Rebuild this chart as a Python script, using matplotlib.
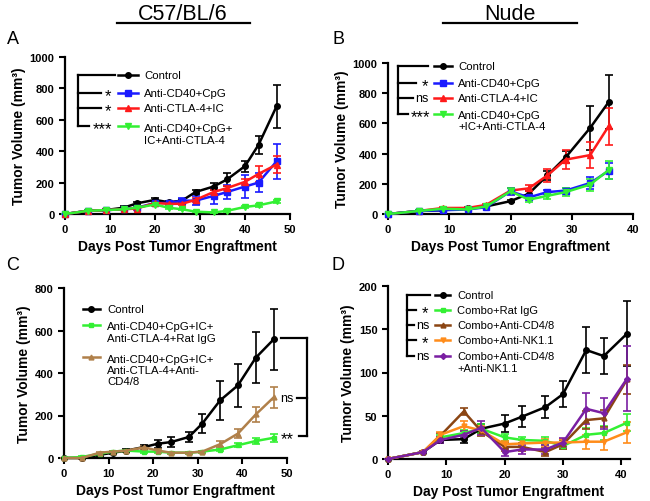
import matplotlib
matplotlib.use("Agg")
import matplotlib.pyplot as plt
from matplotlib.lines import Line2D
import numpy as np

plt.rcParams['font.family'] = ['Liberation Sans', 'DejaVu Sans']

W, H = 650, 502

# ---------------- Data ----------------
# Panel A (C57/BL/6)
daysA = [0, 5, 9, 13, 16, 20, 23, 26, 29, 33, 36, 40, 43, 47]
A_ctrl = [0, 20, 25, 40, 68, 90, 75, 85, 140, 175, 220, 305, 440, 685]
A_ctrl_err = [0, 5, 5, 8, 10, 10, 10, 12, 15, 20, 40, 35, 60, 135]
A_cd40 = [0, 20, 25, 30, 40, 70, 70, 85, 85, 115, 140, 175, 200, 335]
A_cd40_err = [0, 5, 5, 5, 8, 10, 10, 15, 30, 50, 45, 75, 60, 110]
A_ctla = [0, 20, 25, 30, 35, 70, 65, 65, 90, 140, 165, 205, 255, 315]
A_ctla_err = [0, 5, 5, 5, 8, 10, 10, 10, 15, 15, 15, 20, 50, 55]
A_combo = [0, 20, 25, 30, 40, 60, 40, 30, 15, 10, 20, 45, 55, 80]
A_combo_err = [0, 3, 3, 3, 5, 8, 8, 5, 5, 5, 5, 8, 8, 10]

# Panel B (Nude)
daysB = [0, 5, 9, 13, 16, 20, 23, 26, 29, 33, 36]
B_ctrl = [0, 20, 25, 40, 50, 85, 135, 255, 375, 570, 740]
B_ctrl_err = [0, 5, 5, 5, 5, 8, 15, 30, 40, 145, 180]
B_cd40 = [0, 20, 25, 30, 45, 150, 110, 145, 155, 205, 285]
B_cd40_err = [0, 5, 5, 5, 5, 25, 15, 15, 20, 40, 55]
B_ctla = [0, 20, 40, 40, 60, 155, 170, 255, 360, 390, 580]
B_ctla_err = [0, 5, 5, 5, 5, 15, 20, 40, 65, 85, 120]
B_combo = [0, 20, 35, 30, 50, 150, 95, 120, 145, 195, 290]
B_combo_err = [0, 5, 5, 5, 5, 20, 15, 20, 25, 40, 60]

# Panel C (C57/BL/6 depletion)
daysC = [0, 4, 8, 11, 14, 18, 21, 24, 28, 31, 35, 39, 43, 47]
C_ctrl = [0, 0, 15, 25, 35, 52, 67, 75, 99, 162, 271, 342, 472, 558]
C_ctrl_err = [0, 3, 5, 5, 8, 10, 20, 25, 25, 45, 90, 100, 120, 145]
C_igg = [0, 5, 20, 30, 35, 30, 30, 25, 25, 30, 40, 60, 80, 95]
C_igg_err = [0, 3, 5, 5, 5, 5, 5, 5, 5, 5, 8, 10, 15, 20]
C_cd48 = [0, 0, 25, 30, 35, 50, 35, 25, 25, 30, 65, 115, 205, 285]
C_cd48_err = [0, 3, 5, 5, 5, 8, 8, 5, 5, 5, 15, 20, 35, 50]

# Panel D (depletion, second experiment)
daysD = [0, 6, 9, 13, 16, 20, 23, 27, 30, 34, 37, 41]
D_ctrl = [0, 8, 22, 23, 35, 41, 49, 60, 75, 126, 119, 145]
D_ctrl_err = [0, 1, 3, 4, 5, 10, 12, 13, 15, 27, 21, 38]
D_igg = [0, 8, 25, 30, 35, 25, 22, 21, 15, 28, 30, 42]
D_igg_err = [0, 1, 3, 4, 5, 4, 4, 4, 4, 8, 8, 10]
D_cd48 = [0, 8, 27, 55, 32, 14, 14, 8, 17, 45, 47, 92]
D_cd48_err = [0, 1, 3, 4, 5, 5, 5, 5, 5, 10, 10, 17]
D_nk = [0, 8, 28, 38, 33, 17, 18, 19, 19, 20, 20, 31]
D_nk_err = [0, 1, 3, 6, 5, 4, 4, 4, 4, 8, 10, 12]
D_both = [0, 8, 22, 28, 36, 8, 11, 11, 19, 58, 53, 93]
D_both_err = [0, 1, 3, 4, 8, 4, 5, 5, 5, 18, 18, 38]

BLACK = '#000000'
BLUE = '#1a1aff'
RED = '#ff1a1a'
GREEN = '#33f033'
BROWN_C = '#b0804a'
BROWN_D = '#8b4513'
ORANGE = '#ff8c1a'
PURPLE = '#7a1fa2'

fig = plt.figure(figsize=(6.5, 5.02), dpi=100)


def px_axes(l, t, r, b):
    return fig.add_axes([l / W, 1 - b / H, (r - l) / W, (b - t) / H])


def fx(x):
    return x / W


def fy(y):
    return 1 - y / H


def fline(xs, ys, **kw):
    fig.add_artist(Line2D([fx(x) for x in xs], [fy(y) for y in ys],
                          transform=fig.transFigure, **kw))


def ftext(x, y, s, **kw):
    fig.text(fx(x), fy(y), s, **kw)


def style_ax(ax, xmax, xstep, ymax, ystep, xlabel):
    ax.set_xlim(0, xmax)
    ax.set_ylim(0, ymax)
    ax.set_xticks(np.arange(0, xmax + 1, xstep))
    ax.set_yticks(np.arange(0, ymax + 1, ystep))
    for s in ['top', 'right']:
        ax.spines[s].set_visible(False)
    for s in ['left', 'bottom']:
        ax.spines[s].set_linewidth(1.6)
    ax.tick_params(width=1.5, length=4, labelsize=8)
    for lab in ax.get_xticklabels() + ax.get_yticklabels():
        lab.set_fontweight('bold')
    ax.set_xlabel(xlabel, fontsize=10, fontweight='bold', labelpad=3)
    ax.set_ylabel('Tumor Volume (mm³)', fontsize=10, fontweight='bold', labelpad=3)


def series(ax, x, y, e, color, marker, ms=4):
    ax.errorbar(x, y, yerr=e, color=color, marker=marker, ms=ms, lw=1.8,
                elinewidth=1.2, capsize=3, capthick=1.2, clip_on=False, zorder=3)


def legend_entry(x0, x1, y, color, marker, label, tx, ms=4, fs=8.2):
    fline([x0, x1], [y, y], color=color, lw=1.8)
    fline([(x0 + x1) / 2], [y], color=color, marker=marker, ms=ms, lw=0)
    if label:
        ftext(tx, y, label, fontsize=fs, va='center', ha='left')


# ---------------- Panel A ----------------
axA = px_axes(65, 58, 290, 215)
series(axA, daysA, A_ctrl, A_ctrl_err, BLACK, 'o')
series(axA, daysA, A_cd40, A_cd40_err, BLUE, 's')
series(axA, daysA, A_ctla, A_ctla_err, RED, '^')
series(axA, daysA, A_combo, A_combo_err, GREEN, 'v')
style_ax(axA, 50, 10, 1000, 200, 'Days Post Tumor Engraftment')

legend_entry(118, 138, 76, BLACK, 'o', 'Control', 144)
legend_entry(118, 138, 94, BLUE, 's', 'Anti-CD40+CpG', 144)
legend_entry(118, 138, 109, RED, '^', 'Anti-CTLA-4+IC', 144)
legend_entry(118, 138, 127, GREEN, 'v', '', 144)
ftext(144, 135, 'Anti-CD40+CpG+\nIC+Anti-CTLA-4', fontsize=8.2, va='center', ha='left', linespacing=1.3)
fline([78, 78], [76, 127], color='black', lw=1.6)
fline([78, 115], [76, 76], color='black', lw=1.6)
fline([78, 101], [94, 94], color='black', lw=1.6)
fline([78, 101], [109, 109], color='black', lw=1.6)
fline([78, 89], [127, 127], color='black', lw=1.6)
ftext(108, 97, '*', fontsize=12, ha='center', va='center')
ftext(108, 112, '*', fontsize=12, ha='center', va='center')
ftext(102, 130, '***', fontsize=12, ha='center', va='center')

# ---------------- Panel B ----------------
axB = px_axes(388, 64, 633, 215)
series(axB, daysB, B_ctrl, B_ctrl_err, BLACK, 'o')
series(axB, daysB, B_ctla, B_ctla_err, RED, '^')
series(axB, daysB, B_cd40, B_cd40_err, BLUE, 's')
series(axB, daysB, B_combo, B_combo_err, GREEN, 'v')
style_ax(axB, 40, 10, 1000, 200, 'Days Post Tumor Engraftment')

legend_entry(434, 452, 67, BLACK, 'o', 'Control', 458)
legend_entry(434, 452, 84, BLUE, 's', 'Anti-CD40+CpG', 458)
legend_entry(434, 452, 99, RED, '^', 'Anti-CTLA-4+IC', 458)
legend_entry(434, 452, 115, GREEN, 'v', '', 458)
ftext(458, 121.5, 'Anti-CD40+CpG\n+IC+Anti-CTLA-4', fontsize=8.2, va='center', ha='left', linespacing=1.1)
fline([398, 398], [67, 115], color='black', lw=1.6)
fline([398, 428], [67, 67], color='black', lw=1.6)
fline([398, 416], [84, 84], color='black', lw=1.6)
fline([398, 413], [99, 99], color='black', lw=1.6)
fline([398, 408], [115, 115], color='black', lw=1.6)
ftext(425, 87, '*', fontsize=12, ha='center', va='center')
ftext(422, 99, 'ns', fontsize=9, ha='center', va='center')
ftext(420, 118, '***', fontsize=12, ha='center', va='center')

# ---------------- Panel C ----------------
axC = px_axes(64, 289, 287, 459)
series(axC, daysC, C_ctrl, C_ctrl_err, BLACK, 'o')
series(axC, daysC, C_igg, C_igg_err, GREEN, 's', ms=3)
series(axC, daysC, C_cd48, C_cd48_err, BROWN_C, '^', ms=3.5)
style_ax(axC, 50, 10, 800, 200, 'Days Post Tumor Engraftment')

legend_entry(83, 100, 310, BLACK, 'o', 'Control', 107)
legend_entry(83, 100, 326, GREEN, 's', '', 107, ms=3)
ftext(107, 333, 'Anti-CD40+CpG+IC+\nAnti-CTLA-4+Rat IgG', fontsize=8.2, va='center', ha='left', linespacing=1.15)
legend_entry(83, 100, 358, BROWN_C, '^', '', 107, ms=3.5)
ftext(107, 371, 'Anti-CD40+CpG+IC+\nAnti-CTLA-4+Anti-\nCD4/8', fontsize=8.2, va='center', ha='left', linespacing=1.15)
fline([281, 307], [339, 339], color='black', lw=1.6)
fline([307, 307], [339, 437], color='black', lw=1.6)
fline([297, 307], [399, 399], color='black', lw=1.6)
fline([299, 307], [437, 437], color='black', lw=1.6)
ftext(287, 399, 'ns', fontsize=9, ha='center', va='center')
ftext(287, 440, '**', fontsize=12, ha='center', va='center')

# ---------------- Panel D ----------------
axD = px_axes(388, 287, 630, 460)
series(axD, daysD, D_ctrl, D_ctrl_err, BLACK, 'o')
series(axD, daysD, D_igg, D_igg_err, GREEN, 's', ms=3)
series(axD, daysD, D_cd48, D_cd48_err, BROWN_D, '^', ms=3.5)
series(axD, daysD, D_nk, D_nk_err, ORANGE, 'v', ms=3.5)
series(axD, daysD, D_both, D_both_err, PURPLE, 'D', ms=3)
style_ax(axD, 40, 10, 200, 50, 'Day Post Tumor Engraftment')
axD.set_xlim(0, 41.5)
axD.spines['bottom'].set_bounds(0, 41.5)

legend_entry(435, 450, 296, BLACK, 'o', 'Control', 457, fs=8)
legend_entry(435, 450, 311, GREEN, 's', 'Combo+Rat IgG', 457, ms=3, fs=8)
legend_entry(435, 450, 326, BROWN_D, '^', 'Combo+Anti-CD4/8', 457, ms=3.5, fs=8)
legend_entry(435, 450, 341, ORANGE, 'v', 'Combo+Anti-NK1.1', 457, ms=3.5, fs=8)
legend_entry(435, 450, 357, PURPLE, 'D', '', 457, ms=3, fs=8)
ftext(457, 363, 'Combo+Anti-CD4/8\n+Anti-NK1.1', fontsize=8, va='center', ha='left', linespacing=1.15)
fline([407, 407], [296, 357], color='black', lw=1.6)
fline([407, 430], [296, 296], color='black', lw=1.6)
fline([407, 416], [311, 311], color='black', lw=1.6)
fline([407, 414], [326, 326], color='black', lw=1.6)
fline([407, 416], [341, 341], color='black', lw=1.6)
fline([407, 414], [357, 357], color='black', lw=1.6)
ftext(425, 314, '*', fontsize=12, ha='center', va='center')
ftext(423, 326, 'ns', fontsize=9, ha='center', va='center')
ftext(425, 344, '*', fontsize=12, ha='center', va='center')
ftext(423, 357, 'ns', fontsize=9, ha='center', va='center')

# ---------------- Titles and panel letters ----------------
ftext(183, 15, 'C57/BL/6', fontsize=15.5, ha='center', va='center')
fline([117, 250], [24, 24], color='black', lw=1.6)
ftext(510, 15, 'Nude', fontsize=15.5, ha='center', va='center')
fline([443, 577], [24, 24], color='black', lw=1.6)

ftext(13, 40, 'A', fontsize=13, ha='center', va='center')
ftext(338, 40, 'B', fontsize=13, ha='center', va='center')
ftext(13, 265, 'C', fontsize=13, ha='center', va='center')
ftext(338, 265, 'D', fontsize=13, ha='center', va='center')

fig.savefig('out.png', dpi=100)
